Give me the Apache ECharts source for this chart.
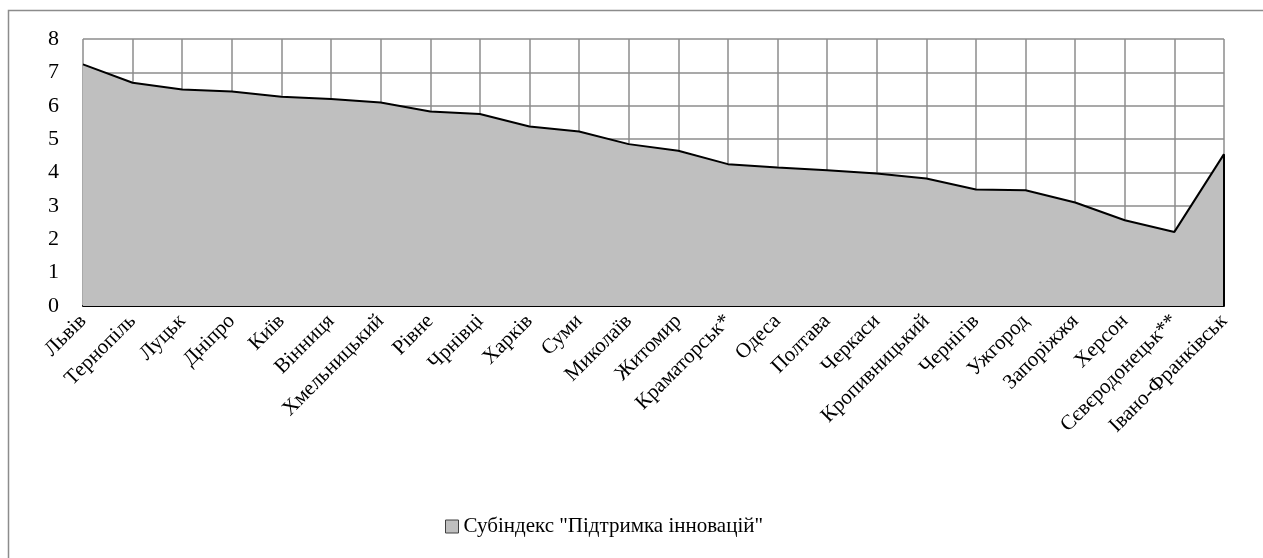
<!DOCTYPE html>
<html><head><meta charset="utf-8">
<script src="https://cdn.jsdelivr.net/npm/echarts@6/dist/echarts.min.js"></script>
<style>html,body{margin:0;padding:0;background:#fff}#c{width:1263px;height:558px}</style>
</head><body><div id="c"></div>
<script>
const categories = ['Львів','Тернопіль','Луцьк','Дніпро','Київ','Вінниця','Хмельницький','Рівне','Чрнівці','Харків','Суми','Миколаїв','Житомир','Краматорськ*','Одеса','Полтава','Черкаси','Кропивницький','Чернігів','Ужгород','Запоріжжя','Херсон','Сєвєродонецьк**','Івано-Франківськ'];
const values = [7.24,6.69,6.49,6.43,6.27,6.20,6.10,5.83,5.75,5.38,5.23,4.85,4.65,4.25,4.15,4.07,3.97,3.82,3.49,3.47,3.10,2.57,2.22,4.55];
const seriesName = 'Субіндекс "Підтримка інновацій"';
const yTicks = [0,1,2,3,4,5,6,7,8];

const font = 'Liberation Serif';
const chart = echarts.init(document.getElementById('c'));
const lastIdx = categories.length - 1;
chart.setOption({
  animation: false,
  graphic: [{type:'rect', shape:{x:8.5,y:10.5,width:1280,height:600}, style:{fill:'none', stroke:'#8c8c8c', lineWidth:1.5}, z:-1}],
  grid: {left:83, right:39, top:39, bottom:252, containLabel:false},
  legend: {
    top: 511, left: 440, itemWidth: 13, itemHeight: 13, itemGap: 4,
    textStyle: {fontFamily: font, fontSize: 21, color: '#000'},
    data: [{name: seriesName, icon: 'rect', itemStyle:{color:'#bfbfbf', borderColor:'#404040', borderWidth:1}}]
  },
  xAxis: {
    type: 'category', data: categories, boundaryGap: false,
    axisLine: {show: true, lineStyle: {color:'#000', width: 2}},
    axisTick: {show: false},
    axisLabel: {rotate: 45, interval: 0, margin: 12, fontFamily: font, fontSize: 21, color: '#000'},
    splitLine: {show: true, lineStyle: {color:'#8c8c8c', width: 1.5}}
  },
  yAxis: {
    type: 'value', min: 0, max: 8, interval: 1,
    axisLine: {show: false}, axisTick: {show: false},
    axisLabel: {margin: 24, fontFamily: font, fontSize: 22, color: '#000',
      formatter: v => yTicks.includes(v) ? String(v) : ''},
    splitLine: {show: true, lineStyle: {color:'#8c8c8c', width: 1.5}}
  },
  series: [{
    name: seriesName, type: 'line', data: values, symbol: 'none',
    lineStyle: {color:'#000', width: 2},
    itemStyle: {color:'#bfbfbf'},
    areaStyle: {color:'#bfbfbf', opacity: 1},
    markLine: {
      silent: true, symbol: ['none','none'], label:{show:false},
      lineStyle: {color:'#000', width: 2, type:'solid'},
      data: [[{coord:[lastIdx, 0]}, {coord:[lastIdx, values[lastIdx]]}]]
    }
  }]
});
</script></body></html>
